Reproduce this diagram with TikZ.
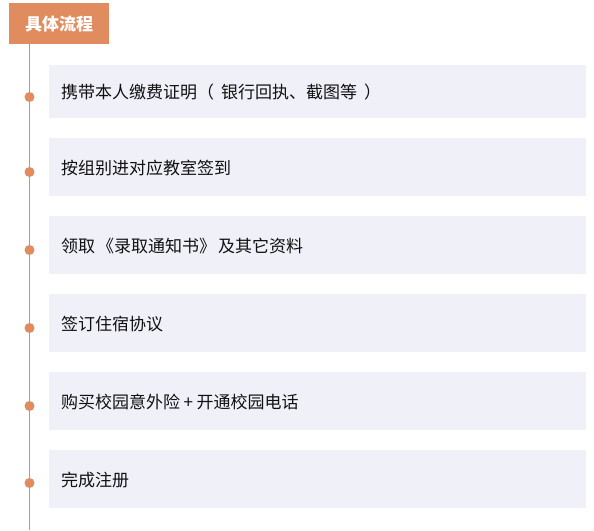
\documentclass[tikz,border=0pt]{standalone}
\usepackage{fontspec}
\newfontfamily\cjk{Noto Sans CJK SC}
\definecolor{accent}{HTML}{E08C5E}
\definecolor{boxfill}{HTML}{F0F0F8}
\definecolor{txt}{HTML}{111111}
\begin{document}
\begin{tikzpicture}[x=1pt,y=-1pt,
  stepbox/.style={fill=boxfill,draw=none,minimum width=537pt,minimum height=58pt,anchor=north west,inner sep=0pt},
  steptext/.style={font=\cjk\fontsize{17}{20}\selectfont,text=txt,anchor=west,inner sep=0pt},
  dot/.style={circle,fill=accent,minimum size=10pt,inner sep=0pt}]
\useasboundingbox (0,0) rectangle (594,530);
\fill[white] (0,0) rectangle (594,530);
\node[fill=accent,minimum width=100pt,minimum height=41pt,anchor=north west,inner sep=0pt,
  font=\cjk\bfseries\fontsize{17}{20}\selectfont,text=white] (head) at (9,3) {具体流程};
\coordinate (lineend) at (29.5,530);
\draw[accent,line width=1.3pt] (29.5,44) -- (lineend);
\node[stepbox,minimum height=53pt] (b1) at (49,65) {};
\node[stepbox] (b2) at (49,138) {};
\node[stepbox] (b3) at (49,216) {};
\node[stepbox] (b4) at (49,294) {};
\node[stepbox] (b5) at (49,372) {};
\node[stepbox] (b6) at (49,450) {};
\node[steptext] (t1) at (61,92) {携带本人缴费证明（\hspace{7pt}银行回执、截图等\hspace{7pt}）};
\node[steptext] (t2) at (61,168) {按组别进对应教室签到};
\node[steptext] (t3) at (61,246) {领取\hspace{2pt}《录取通知书》\hspace{2pt}及其它资料};
\node[steptext] (t4) at (61,324) {签订住宿协议};
\node[steptext] (t5) at (61,402) {购买校园意外险\hspace{3.5pt}+\hspace{3.5pt}开通校园电话};
\node[steptext] (t6) at (61,480) {完成注册};
\node[dot] (d1) at (29.5,97) {};
\node[dot] (d2) at (29.5,172) {};
\node[dot] (d3) at (29.5,250) {};
\node[dot] (d4) at (29.5,328) {};
\node[dot] (d5) at (29.5,406) {};
\node[dot] (d6) at (29.5,483) {};
\end{tikzpicture}
\end{document}
